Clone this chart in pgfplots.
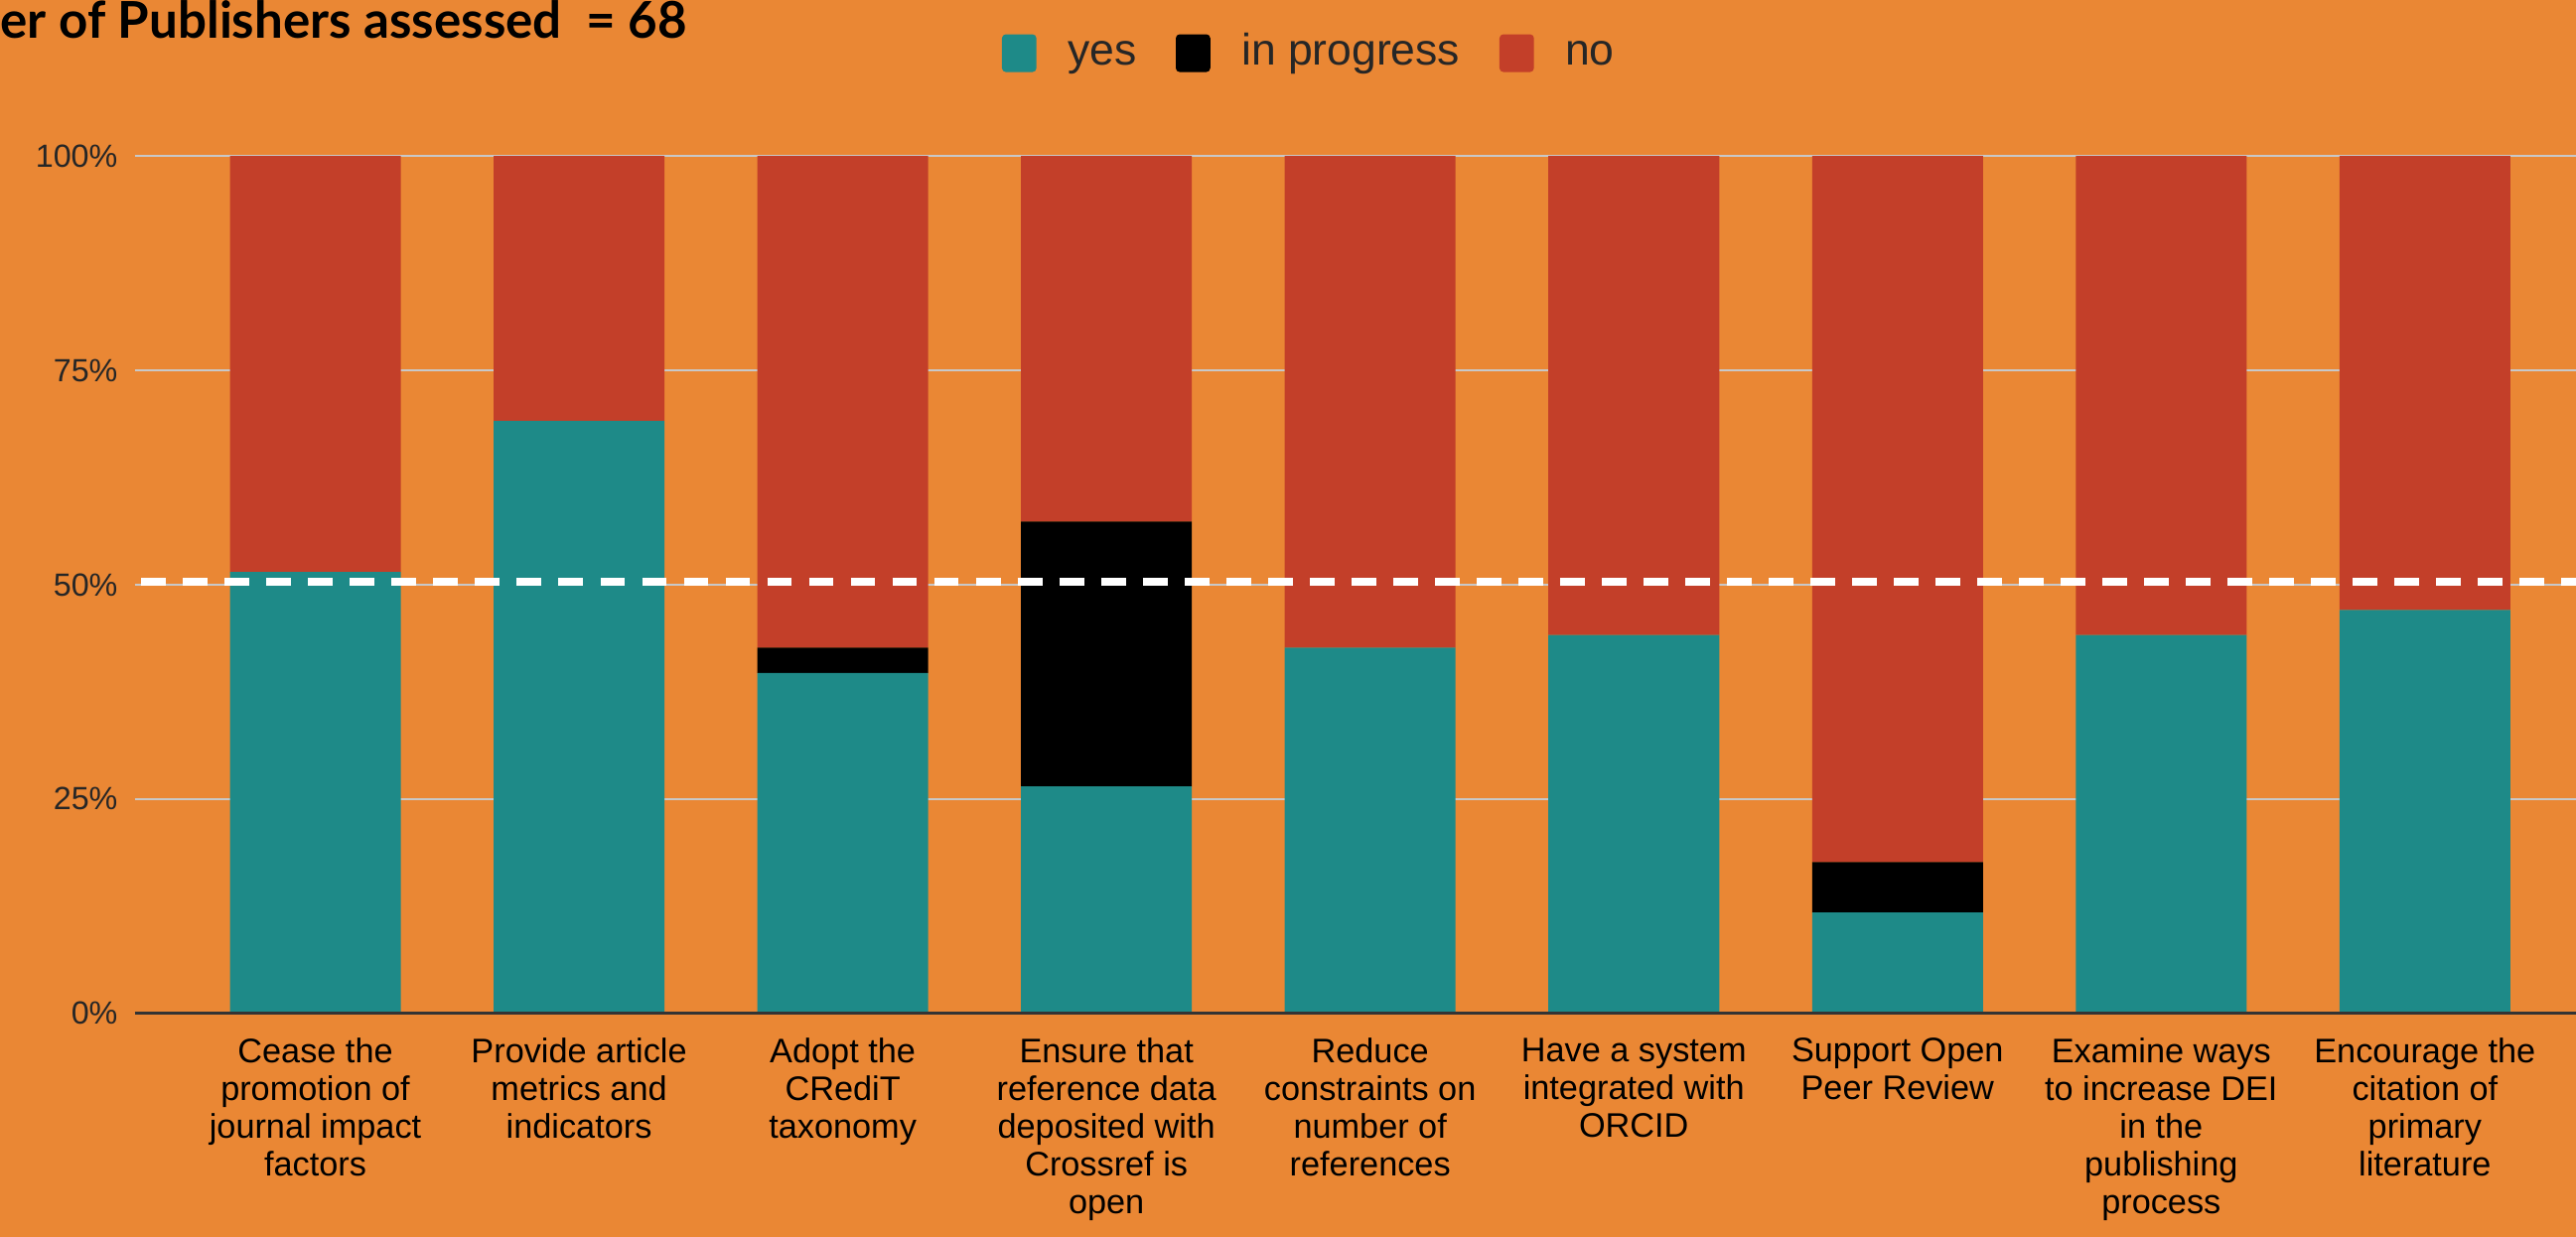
\documentclass[border=0pt]{standalone}
\usepackage{fontspec}
\setmainfont{Liberation Sans}
\newfontfamily\latofont{Lato}
\usepackage{pgfplots}
\pgfplotsset{compat=1.18}
\definecolor{bgorange}{HTML}{EA8734}
\definecolor{yesteal}{HTML}{1E8A88}
\definecolor{nored}{HTML}{C33F29}
\definecolor{gridgray}{HTML}{C8C8C8}
\definecolor{axisdark}{HTML}{333333}
\begin{document}
\begin{tikzpicture}
\useasboundingbox (-41bp,-68bp) rectangle (743bp,308.5bp);
\fill[bgorange] (-41bp,-68bp) rectangle (743bp,308.5bp);
\clip (-41bp,-68bp) rectangle (743bp,308.5bp);
\node[anchor=base west, inner sep=0pt, font=\latofont\bfseries\fontsize{15.5}{17}\selectfont] at (-41bp,297bp) {er of Publishers assessed\ \ = 68};
\begin{axis}[
  at={(0,0)}, anchor=south west,
  scale only axis, width=743bp, height=261bp,
  xmin=-0.685, xmax=8.573, ymin=0, ymax=100,
  ybar stacked, bar width=52bp,
  axis line style={draw=none},
  major tick length=0pt,
  ymajorgrids, grid style={draw=gridgray, line width=0.6bp},
  ytick={0,25,50,75,100},
  yticklabels={0\%,25\%,50\%,75\%,100\%},
  yticklabel style={font=\fontsize{9.8}{11}\selectfont, text=black!85, inner sep=0pt, xshift=-5bp},
  xtick={0,1,2,3,4,5,6,7,8},
  xticklabels={
    {Cease the\\promotion of\\journal impact\\factors},
    {Provide article\\metrics and\\indicators},
    {Adopt the\\CRediT\\taxonomy},
    {Ensure that\\reference data\\deposited with\\Crossref is\\open},
    {Reduce\\constraints on\\number of\\references},
    {Have a system\\integrated with\\ORCID},
    {Support Open\\Peer Review},
    {Examine ways\\to increase DEI\\in the\\publishing\\process},
    {Encourage the\\citation of\\primary\\literature}},
  xticklabel style={align=center, font=\fontsize{10.4}{11.5}\selectfont, inner sep=0pt, anchor=north, yshift=-7.4bp},
  legend columns=-1,
  legend style={at={(axis description cs:0.482,1.116)}, anchor=center, draw=none, fill=none,
    font=\fontsize{13.5}{15}\selectfont, text=black!85,
    nodes={text height=0.72em, text depth=0.21em, yshift=-1.2bp},
    /tikz/every odd column/.append style={column sep=7.5bp},
    /tikz/every even column/.append style={column sep=10bp}},
  legend image code/.code={\fill[#1, rounded corners=1.2bp] (0bp,-5.75bp) rectangle (10.5bp,5.75bp);},
  after end axis/.code={
    \draw[axisdark, line width=1bp] (axis cs:-0.685,0) -- (axis cs:8.573,0);
    \draw[white, line width=2.2bp, dash pattern=on 7.5bp off 5.2bp] (axis cs:-0.66,50.35) -- (axis cs:8.573,50.35);
  },
]
\addplot[fill=yesteal, draw=none] coordinates {(0,51.47) (1,69.12) (2,39.71) (3,26.47) (4,42.65) (5,44.12) (6,11.76) (7,44.12) (8,47.06)};
\addplot[fill=black, draw=none] coordinates {(0,0) (1,0) (2,2.94) (3,30.88) (4,0) (5,0) (6,5.88) (7,0) (8,0)};
\addplot[fill=nored, draw=none] coordinates {(0,48.53) (1,30.88) (2,57.35) (3,42.65) (4,57.35) (5,55.88) (6,82.35) (7,55.88) (8,52.94)};
\legend{yes,in progress,no}
\end{axis}
\end{tikzpicture}
\end{document}
